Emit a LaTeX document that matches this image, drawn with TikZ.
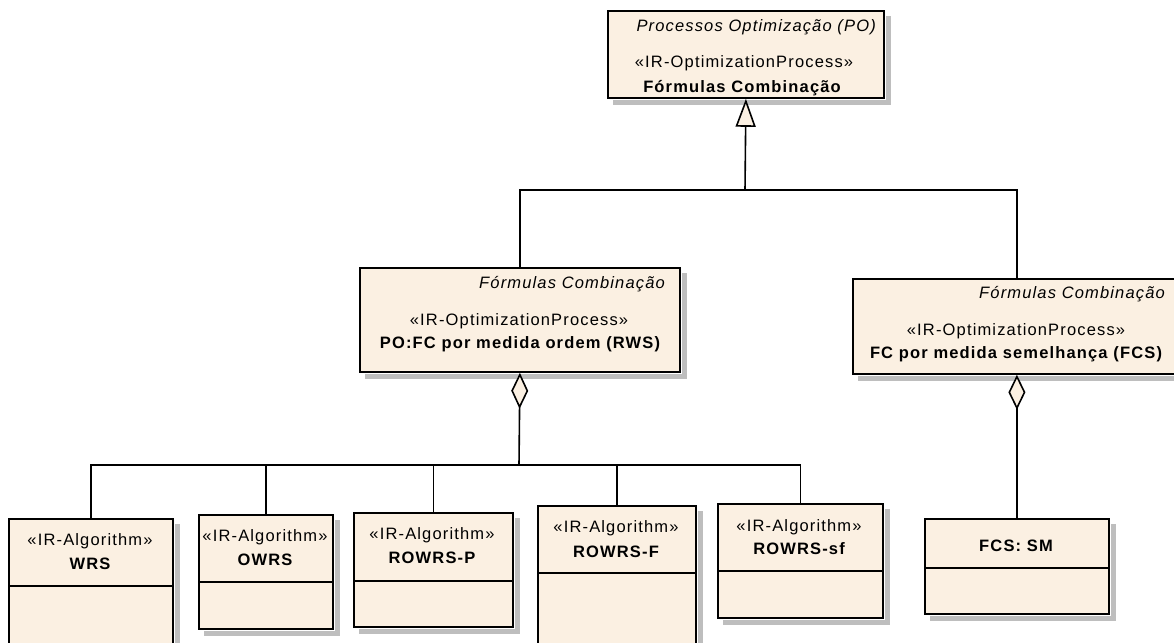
\documentclass[tikz,border=0pt]{standalone}
\usepackage{fontspec}
\usetikzlibrary{arrows.meta}
\newfontfamily\umlfont[LetterSpace=7]{Liberation Sans}
\definecolor{umlfill}{RGB}{251,240,226}
\definecolor{umlshadow}{RGB}{190,190,190}
\tikzset{
  umlbox/.style={draw=black, line width=1.8pt, fill=umlfill, rectangle, inner sep=0pt},
  shadowbox/.style={fill=umlshadow, draw=none},
  txt/.style={inner sep=0pt, font=\umlfont\fontsize{16.5}{19}\selectfont},
  ctxt/.style={txt, anchor=base},
  itxt/.style={txt, anchor=base east, font=\umlfont\itshape\fontsize{16.5}{19}\selectfont},
  btxt/.style={txt, anchor=base, font=\umlfont\bfseries\fontsize{16.5}{19}\selectfont},
  conn/.style={draw=black, line width=1.6pt},
  divider/.style={draw=black, line width=1.6pt}
}
\newcommand{\umlshadowof}[1]{%
  \path (#1.north east) coordinate (ne-#1) (#1.south east) coordinate (se-#1) (#1.south west) coordinate (sw-#1);
  \fill[shadowbox] ($(ne-#1)+(1,6)$) rectangle ($(se-#1)+(6,6)$);
  \fill[shadowbox] ($(sw-#1)+(6,1)$) rectangle ($(se-#1)+(6,6)$);
}
\usetikzlibrary{calc}
\begin{document}
\begin{tikzpicture}[x=1pt,y=-1pt]
\useasboundingbox (0,0) rectangle (1174,642);
% boxes
\node[umlbox, minimum width=276, minimum height=87, anchor=north west] (po) at (607,10) {};
\node[umlbox, minimum width=320, minimum height=104, anchor=north west] (rws) at (359,267) {};
\node[umlbox, minimum width=328, minimum height=95, anchor=north west] (fcs) at (852,278) {};
\node[umlbox, minimum width=164, minimum height=160, anchor=north west] (wrs) at (8,518) {};
\node[umlbox, minimum width=134, minimum height=114, anchor=north west] (owrs) at (198,514) {};
\node[umlbox, minimum width=159, minimum height=114, anchor=north west] (rowrsp) at (353,512) {};
\node[umlbox, minimum width=158, minimum height=160, anchor=north west] (rowrsf) at (537,505) {};
\node[umlbox, minimum width=165, minimum height=114, anchor=north west] (rowrssf) at (717,503) {};
\node[umlbox, minimum width=184, minimum height=95, anchor=north west] (fcssm) at (924,518) {};
% shadows
\umlshadowof{po}
\umlshadowof{rws}
\umlshadowof{fcs}
\umlshadowof{wrs}
\umlshadowof{owrs}
\umlshadowof{rowrsp}
\umlshadowof{rowrsf}
\umlshadowof{rowrssf}
\umlshadowof{fcssm}
% dividers
\draw[divider] (wrs.west |- 0,586) -- (wrs.east |- 0,586);
\draw[divider] (owrs.west |- 0,582) -- (owrs.east |- 0,582);
\draw[divider] (rowrsp.west |- 0,581) -- (rowrsp.east |- 0,581);
\draw[divider] (rowrsf.west |- 0,573) -- (rowrsf.east |- 0,573);
\draw[divider] (rowrssf.west |- 0,571) -- (rowrssf.east |- 0,571);
\draw[divider] (fcssm.west |- 0,568) -- (fcssm.east |- 0,568);
% texts
\node[itxt] (po-i) at (876,32) {Processos Optimização (PO)};
\node[ctxt] (po-s) at (744,67.5) {«IR-OptimizationProcess»};
\node[btxt] (po-n) at (742,92) {Fórmulas Combinação};
\node[itxt] (rws-i) at (665,288.5) {Fórmulas Combinação};
\node[ctxt] (rws-s) at (519,325.5) {«IR-OptimizationProcess»};
\node[btxt] (rws-n) at (520,348) {PO:FC por medida ordem (RWS)};
\node[itxt] (fcs-i) at (1165,298.5) {Fórmulas Combinação};
\node[ctxt] (fcs-s) at (1016,335.5) {«IR-OptimizationProcess»};
\node[btxt] (fcs-n) at (1016,358) {FC por medida semelhança (FCS)};
\node[ctxt] (wrs-s) at (90,545.5) {«IR-Algorithm»};
\node[btxt] (wrs-n) at (90,569) {WRS};
\node[ctxt] (owrs-s) at (265,541.5) {«IR-Algorithm»};
\node[btxt] (owrs-n) at (265,565.5) {OWRS};
\node[ctxt] (rowrsp-s) at (432,539.5) {«IR-Algorithm»};
\node[btxt] (rowrsp-n) at (432,563.5) {ROWRS-P};
\node[ctxt] (rowrsf-s) at (616,532.5) {«IR-Algorithm»};
\node[btxt] (rowrsf-n) at (616,557.5) {ROWRS-F};
\node[ctxt] (rowrssf-s) at (799,531.5) {«IR-Algorithm»};
\node[btxt] (rowrssf-n) at (799,554.5) {ROWRS-sf};
\node[btxt] (fcssm-n) at (1016,551.5) {FCS: SM};
% connectors
\coordinate (gj) at (745,190);
\coordinate (aj) at (519,465);
\draw[conn] (rws.north) |- (gj) -| (fcs.north);
\draw[conn, -{Triangle[fill=umlfill, length=28pt, width=20pt, line width=1.6pt]}] (gj) -- (po.south);
\draw[conn, {Diamond[fill=umlfill, length=36pt, width=17pt, line width=1.6pt]}-] (rws.south) -- (aj);
\draw[conn] (aj) -| (wrs.north);
\draw[conn] (aj) -| (owrs.north);
\draw[conn] (aj) -| (rowrsp.north);
\draw[conn] (aj) -| (rowrsf.north);
\draw[conn] (aj) -| (rowrssf.north);
\draw[conn, {Diamond[fill=umlfill, length=35pt, width=17pt, line width=1.6pt]}-] (fcs.south) -- (fcssm.north);
\end{tikzpicture}
\end{document}
